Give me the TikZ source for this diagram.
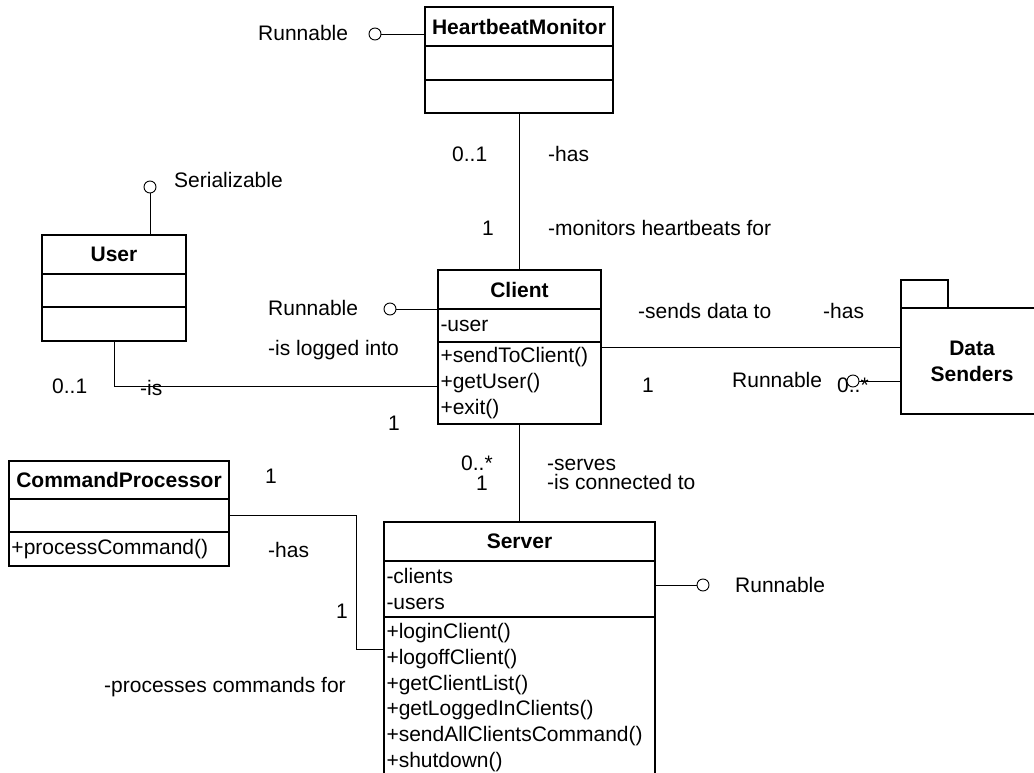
\documentclass[tikz,border=0pt]{standalone}
\usepackage{fontspec}
\setmainfont{Liberation Sans}
\usetikzlibrary{positioning}

\newcommand\diafont{\fontsize{21}{25.8}\selectfont}

\tikzset{
  classpart/.style={draw, line width=1.5pt, outer sep=0pt, inner sep=2.5pt, align=left, anchor=north, font=\diafont},
  classname/.style={classpart, align=center, font=\diafont\bfseries},
  package/.style={draw, line width=1.5pt, outer sep=0pt, align=center, font=\diafont\bfseries},
  lolli/.style={circle, draw, fill=white, line width=0.9pt, minimum size=12pt, inner sep=0pt},
  link/.style={line width=0.9pt},
  lbl/.style={anchor=base west, inner sep=0pt, font=\diafont}
}

\begin{document}
\begin{tikzpicture}[x=1pt, y=-1pt, node distance=0pt]
\useasboundingbox (0,0) rectangle (1034,773);

% classes
\node[classname, text width=183pt, minimum height=39pt] (hbm) at (519,7) {HeartbeatMonitor};
\node[classpart, text width=183pt, minimum height=34pt, below=of hbm] (hbmAttr) {};
\node[classpart, text width=183pt, minimum height=33pt, below=of hbmAttr] (hbmOps) {};

\node[classname, text width=139pt, minimum height=39pt] (user) at (114,235) {User};
\node[classpart, text width=139pt, minimum height=33pt, below=of user] (userAttr) {};
\node[classpart, text width=139pt, minimum height=34pt, below=of userAttr] (userOps) {};

\node[classname, text width=158pt, minimum height=39pt] (client) at (519.5,270) {Client};
\node[classpart, text width=158pt, minimum height=33pt, below=of client] (clientAttr) {-user};
\node[classpart, text width=158pt, minimum height=82pt, below=of clientAttr] (clientOps)
  {+sendToClient()\\+getUser()\\+exit()};

\node[classname, text width=215pt, minimum height=38pt] (cp) at (119,461) {CommandProcessor};
\node[classpart, text width=215pt, minimum height=33pt, below=of cp] (cpAttr) {};
\node[classpart, text width=215pt, minimum height=34pt, below=of cpAttr] (cpOps) {+processCommand()};

\node[classname, text width=266pt, minimum height=39pt] (server) at (519.5,522) {Server};
\node[classpart, text width=266pt, minimum height=56pt, below=of server] (svAttr) {-clients\\-users};
\node[classpart, text width=266pt, minimum height=161pt, below=of svAttr] (svOps)
  {+loginClient()\\+logoffClient()\\+getClientList()\\+getLoggedInClients()\\+sendAllClientsCommand()\\+shutdown()};

% package
\node[package, minimum width=47pt, minimum height=28pt, anchor=south west] (dsTab) at (901,308) {};
\node[package, minimum width=142pt, minimum height=106pt, anchor=north west] (ds) at (901,308) {Data\\Senders};

% role names and multiplicities
\node[lbl] (t1) at (258,41) {Runnable};
\node[lbl] (t2) at (174,188) {Serializable};
\node[lbl] (t3) at (452,162) {0..1};
\node[lbl] (t4) at (548,162) {-has};
\node[lbl] (t5) at (482,235) {1};
\node[lbl] (t6) at (548,235) {-monitors heartbeats for};
\node[lbl] (t7) at (268,315) {Runnable};
\node[lbl] (t8) at (268,355) {-is logged into};
\node[lbl] (t9) at (638,318) {-sends data to};
\node[lbl] (t10) at (823,318) {-has};
\node[lbl] (t11) at (642,392) {1};
\node[lbl] (t12) at (732,387) {Runnable};
\node[lbl] (t13) at (837,392) {0..*};
\node[lbl] (t14) at (52,393) {0..1};
\node[lbl] (t15) at (140,395) {-is};
\node[lbl] (t16) at (388,430) {1};
\node[lbl] (t17) at (265,483) {1};
\node[lbl] (t18) at (268,557) {-has};
\node[lbl] (t19) at (336,618) {1};
\node[lbl] (t20) at (461,470) {0..*};
\node[lbl] (t21) at (476,490) {1};
\node[lbl] (t22) at (547,470) {-serves};
\node[lbl] (t23) at (547,489) {-is connected to};
\node[lbl] (t24) at (104,692) {-processes commands for};
\node[lbl] (t25) at (735,592) {Runnable};

% interfaces
\node[lolli] (hbmRun) at (375,34) {};
\node[lolli] (usrRun) at (150,187) {};
\node[lolli] (clRun) at (390,309) {};
\node[lolli] (dsRun) at (853,381) {};
\node[lolli] (svRun) at (703,585) {};

\draw[link] (hbmRun) -- (hbmRun -| hbm.west);
\draw[link] (usrRun) -- (usrRun |- user.north);
\draw[link] (clRun) -- (clRun -| client.west);
\draw[link] (dsRun) -- (dsRun -| ds.west);
\draw[link] (svRun) -- (svRun -| svAttr.east);

% associations
\draw[link] (hbmOps.south) -- (hbmOps.south |- client.north);
\draw[link] (clientOps.south) -- (server.north);
\draw[link] ([yshift=-5pt]clientOps.north east) -- ([yshift=-5pt]clientOps.north east -| ds.west);
\draw[link] (userOps.south) |- ([yshift=-3pt]clientOps.west);
\draw[link] (cpAttr.east) -- (356,0 |- cpAttr.east) |- ([yshift=-32pt]svOps.north west);
\end{tikzpicture}
\end{document}
